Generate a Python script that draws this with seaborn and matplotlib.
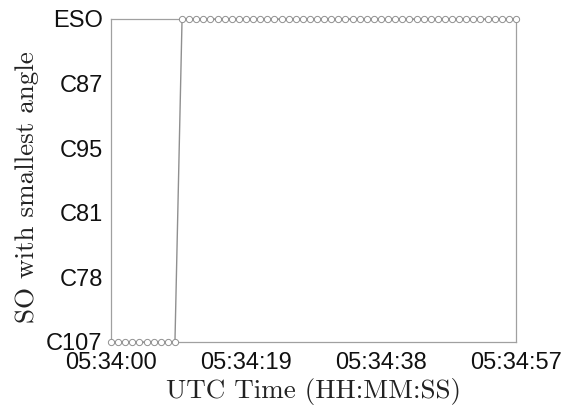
import numpy as np
import pandas as pd
import matplotlib
matplotlib.use("Agg")
import matplotlib.pyplot as plt
import seaborn as sns

# Satellite order on the y axis (bottom to top)
so_order = ["C107", "C78", "C81", "C95", "C87", "ESO"]

# Epoch offsets in seconds from 05:34:00 and the SO with the smallest angle
seconds = list(range(0, 58))
so_names = ["C107"] * 10 + ["ESO"] * 48

x_tick_seconds = [0, 19, 38, 57]
x_tick_labels = ["05:34:00", "05:34:19", "05:34:38", "05:34:57"]

df = pd.DataFrame({"t": seconds, "so": so_names})
df["level"] = df["so"].map({n: i for i, n in enumerate(so_order)})

sns.set_style("white")
fig = plt.figure(figsize=(5.73, 4.07), dpi=100)
ax = fig.add_axes([111 / 573, 1 - 342 / 407, (516 - 111) / 573, (342 - 19) / 407])

sns.lineplot(data=df, x="t", y="level", ax=ax, color="#8f8f8f", linewidth=1.0,
             marker="o", markersize=4.5, markerfacecolor="white",
             markeredgecolor="#8f8f8f", markeredgewidth=0.7)
for line in ax.lines:
    line.set_clip_on(False)
    line.set_zorder(5)

ax.set_xlim(0, 57)
ax.set_ylim(0, len(so_order) - 1)
ax.set_xticks(x_tick_seconds)
ax.set_xticklabels(x_tick_labels)
ax.set_yticks(range(len(so_order)))
ax.set_yticklabels(so_order)

for lab in ax.get_xticklabels() + ax.get_yticklabels():
    lab.set_fontfamily(["Liberation Sans", "DejaVu Sans"])
    lab.set_fontsize(17)
    lab.set_color("#111111")

ax.tick_params(axis="both", direction="in", length=3, width=0.6, color="#a0a0a0")
ax.tick_params(axis="x", pad=7)
ax.tick_params(axis="y", pad=6)

for s in ax.spines.values():
    s.set_visible(True)
    s.set_color("#a0a0a0")
    s.set_linewidth(0.9)

label_font = dict(family=["cmr10", "DejaVu Serif"], size=19.5, color="#222222")
ax.set_xlabel("UTC Time (HH:MM:SS)", **label_font)
ax.set_ylabel("SO with smallest angle", **label_font)
ax.xaxis.set_label_coords(0.5, (342 - 378) / 323)
ax.yaxis.set_label_coords((39 - 111) / 405, (342 - 187) / 323)

fig.savefig("out.png", dpi=100)
